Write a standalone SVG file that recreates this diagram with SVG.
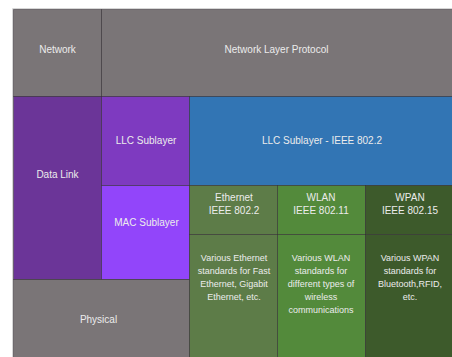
<svg xmlns="http://www.w3.org/2000/svg" width="452" height="357" viewBox="0 0 452 357">
<style>
.c{stroke:#2f2a30;stroke-opacity:0.55;stroke-width:1}
text{font-family:"Liberation Sans",Arial,Helvetica,sans-serif;fill:#ececec;text-anchor:middle}
.l{font-size:10px}
.s{font-size:9px}
</style>
<rect x="0" y="0" width="452" height="357" fill="#ffffff"/>
<path d="M12.5 357 V8.5 H452" fill="none" stroke="#d6d6d6" stroke-width="1"/>
<g id="network">
<rect class="c" x="13.5" y="9.5" width="88" height="87" fill="#7a7577"/>
<text class="l" x="57.5" y="53">Network</text>
</g>
<g id="network-layer-protocol">
<rect class="c" x="101.5" y="9.5" width="351" height="87" fill="#7a7577"/>
<text class="l" x="276.5" y="53">Network Layer Protocol</text>
</g>
<g id="data-link">
<rect class="c" x="13.5" y="96.5" width="88" height="183" fill="#6b3598"/>
<text class="l" x="57.5" y="177.6">Data Link</text>
</g>
<g id="llc-sublayer">
<rect class="c" x="101.5" y="96.5" width="88" height="89" fill="#7e3ac0"/>
<text class="l" x="146" y="144.3">LLC Sublayer</text>
</g>
<g id="mac-sublayer">
<rect class="c" x="101.5" y="185.5" width="88" height="94" fill="#9245fa"/>
<text class="l" x="146.5" y="225.6">MAC Sublayer</text>
</g>
<g id="llc-ieee">
<rect class="c" x="189.5" y="96.5" width="263" height="89" fill="#3275b4"/>
<text class="l" x="322" y="144.3">LLC Sublayer - IEEE 802.2</text>
</g>
<g id="physical">
<rect class="c" x="13.5" y="279.5" width="176" height="78" fill="#7a7577"/>
<text class="l" x="98.5" y="323.3">Physical</text>
</g>
<g id="ethernet-header">
<rect class="c" x="189.5" y="185.5" width="88" height="49" fill="#5d7c48"/>
<text class="l" x="234" y="201.3">Ethernet</text>
<text class="l" x="234" y="214.3">IEEE 802.2</text>
</g>
<g id="wlan-header">
<rect class="c" x="277.5" y="185.5" width="88" height="49" fill="#538a3b"/>
<text class="l" x="321" y="201.3">WLAN</text>
<text class="l" x="321" y="214.3">IEEE 802.11</text>
</g>
<g id="wpan-header">
<rect class="c" x="365.5" y="185.5" width="87" height="49" fill="#3d5a2b"/>
<text class="l" x="410" y="201.3">WPAN</text>
<text class="l" x="410" y="214.3">IEEE 802.15</text>
</g>
<g id="ethernet-body">
<rect class="c" x="189.5" y="234.5" width="88" height="123" fill="#5d7c48"/>
<text class="s" x="234" y="261">Various Ethernet</text>
<text class="s" x="234" y="274.3">standards for Fast</text>
<text class="s" x="234" y="287.3">Ethernet, Gigabit</text>
<text class="s" x="234" y="300.3">Ethernet, etc.</text>
</g>
<g id="wlan-body">
<rect class="c" x="277.5" y="234.5" width="88" height="123" fill="#538a3b"/>
<text class="s" x="321" y="261">Various WLAN</text>
<text class="s" x="321" y="274.3">standards for</text>
<text class="s" x="321" y="287.3">different types of</text>
<text class="s" x="321" y="300.3">wireless</text>
<text class="s" x="321" y="313.3">communications</text>
</g>
<g id="wpan-body">
<rect class="c" x="365.5" y="234.5" width="87" height="123" fill="#3d5a2b"/>
<text class="s" x="410" y="261">Various WPAN</text>
<text class="s" x="410" y="274.3">standards for</text>
<text class="s" x="410" y="287.3">Bluetooth,RFID,</text>
<text class="s" x="410" y="300.3">etc.</text>
</g>
<g id="connectors"></g>
</svg>
